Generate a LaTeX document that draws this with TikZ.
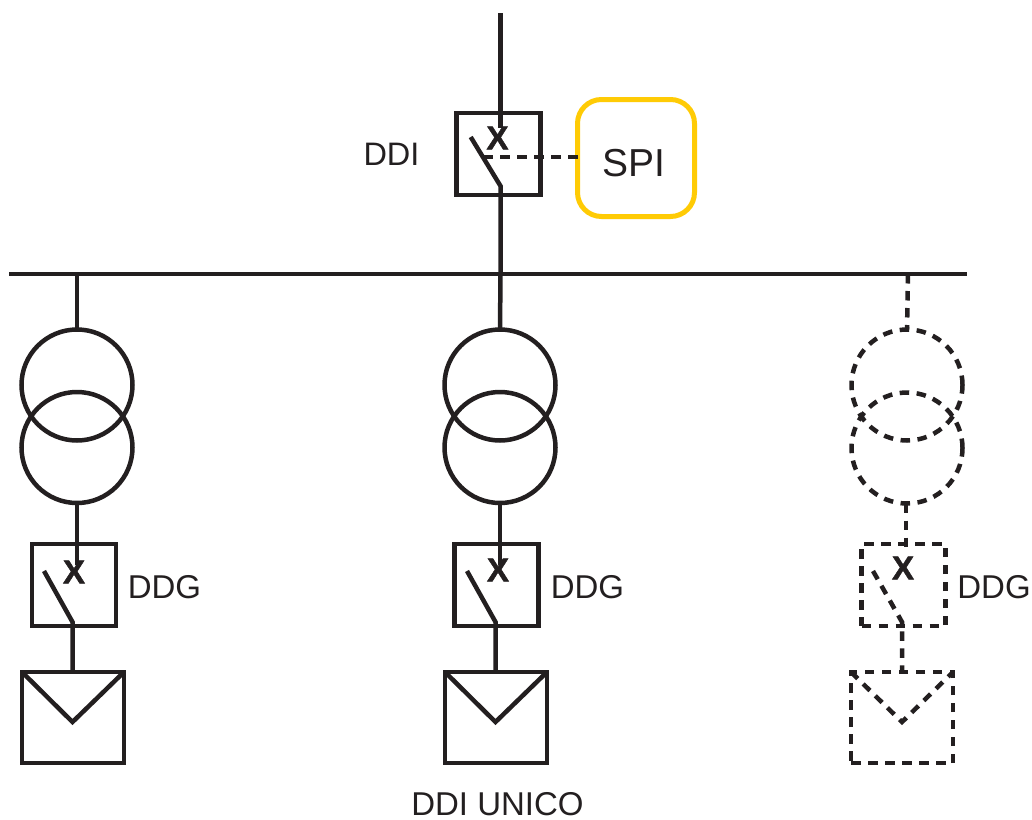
\documentclass[tikz,border=0pt]{standalone}
\usepackage{fontspec}
\setmainfont[BoldFeatures={FakeBold=1.5}]{Liberation Sans}
\definecolor{ink}{HTML}{231F20}
\definecolor{spiy}{HTML}{FFCB05}
\tikzset{
  wire/.style={draw=ink,line width=4.5pt,line cap=butt},
  dashwire/.style={wire,dash pattern=on 9.5pt off 7.5pt},
  swbox/.style={draw=ink,line width=4.5pt,rectangle,inner sep=0pt,outer sep=0pt,minimum width=84pt,minimum height=82pt},
  pvbox/.style={draw=ink,line width=4.5pt,rectangle,inner sep=0pt,outer sep=0pt,minimum width=102pt,minimum height=91pt},
  coil/.style={draw=ink,line width=4.5pt,circle,inner sep=0pt,outer sep=0pt,minimum size=111pt},
  dashed box/.style={dash pattern=on 9.5pt off 7.5pt},
  lbl/.style={text=ink,inner sep=0pt,font=\fontsize{33}{36}\selectfont},
  xmark/.style={text=ink,inner sep=0pt,font=\fontsize{33}{36}\selectfont\bfseries},
}
\begin{document}
\begin{tikzpicture}[x=1pt,y=-1pt]
\useasboundingbox (0,0) rectangle (1032,819);
% bus
\coordinate (busL) at (9,274);
\coordinate (busR) at (967,274);
\draw[wire] (busL) -- (busR);
% incoming DDI
\coordinate (feed) at (500.5,13);
\coordinate (ddiX) at (500.5,128);
\coordinate (ddiA) at (470.7,137);
\coordinate (ddiB) at (500.5,186);
\coordinate (ddiD) at (483,157);
\coordinate (busM) at (500.5,274);
\coordinate (busA) at (77,274);
\coordinate (busC) at (908,274);
\node[swbox] (ddi) at (498.5,154) {};
\node[xmark] (ddix) at (497.5,138) {X};
\node[text=ink,inner sep=0pt,font=\fontsize{32.5}{36}\selectfont] (ddilbl) at (391.5,154.5) {DDI};
\node[draw=spiy,line width=5pt,rectangle,rounded corners=24pt,inner sep=0pt,outer sep=0pt,minimum width=117pt,minimum height=117pt] (spi) at (636,158) {};
\node[text=ink,inner sep=0pt,font=\fontsize{39}{42}\selectfont] (spit) at (633.5,163) {SPI};
\draw[wire] (feed) -- (ddiX);
\draw[wire] (ddiA) -- (ddiB) -- (busM);
\draw[wire,dash pattern=on 10pt off 7pt] (ddiD) -- (spi.west |- ddiD);
% left branch
\node[coil] (t1a) at (77,385) {};
\node[coil] (t1b) at (77,447.5) {};
\node[swbox] (s1) at (73.8,585) {};
\node[pvbox] (p1) at (73,717.5) {};
\node[xmark] (x1) at (74,572) {X};
\node[lbl] (d1) at (164.5,587.5) {DDG};
\coordinate (s1x) at (76,565);
\coordinate (s1a) at (44,571);
\coordinate (s1b) at (72.5,622);
\coordinate (v1) at (72.5,722);
\draw[wire] (busA) -- (t1a.north);
\draw[wire] (t1b.south) -- (t1b.south |- s1x);
\draw[wire] (s1a) -- (s1b) -- (s1b |- p1.north);
\draw[wire] (p1.north west) -- (v1) -- (p1.north east);
% middle branch
\node[coil] (t2a) at (500,385) {};
\node[coil] (t2b) at (500,447.5) {};
\node[swbox] (s2) at (496.5,585) {};
\node[pvbox] (p2) at (496,717.5) {};
\node[xmark] (x2) at (498,570) {X};
\node[lbl] (d2) at (587.5,587.5) {DDG};
\coordinate (s2x) at (499,565);
\coordinate (s2a) at (467,571);
\coordinate (s2b) at (495.5,622);
\coordinate (v2) at (495.5,722);
\draw[wire] (busM) -- (t2a.north);
\draw[wire] (t2b.south) -- (t2b.south |- s2x);
\draw[wire] (s2a) -- (s2b) -- (s2b |- p2.north);
\draw[wire] (p2.north west) -- (v2) -- (p2.north east);
% right dashed branch
\node[coil,dashed box] (t3a) at (907,385) {};
\node[coil,dashed box] (t3b) at (907,448) {};
\node[swbox,dashed box] (s3) at (903.5,585) {};
\node[pvbox,dashed box] (p3) at (902,717.5) {};
\node[xmark] (x3) at (903,568) {X};
\node[lbl] (d3) at (994,587.5) {DDG};
\coordinate (s3x) at (906,552);
\coordinate (s3a) at (873,571);
\coordinate (s3b) at (902,622);
\coordinate (v3) at (902,722);
\draw[dashwire] (busC) -- (t3a.north);
\draw[dashwire] (t3b.south -| s3x) -- (s3x);
\draw[dashwire] (s3a) -- (s3b) -- (s3b |- p3.north);
\draw[dashwire] (p3.north west) -- (v3) -- (p3.north east);
\node[lbl] (unico) at (497.5,804.5) {DDI UNICO};
\end{tikzpicture}
\end{document}
